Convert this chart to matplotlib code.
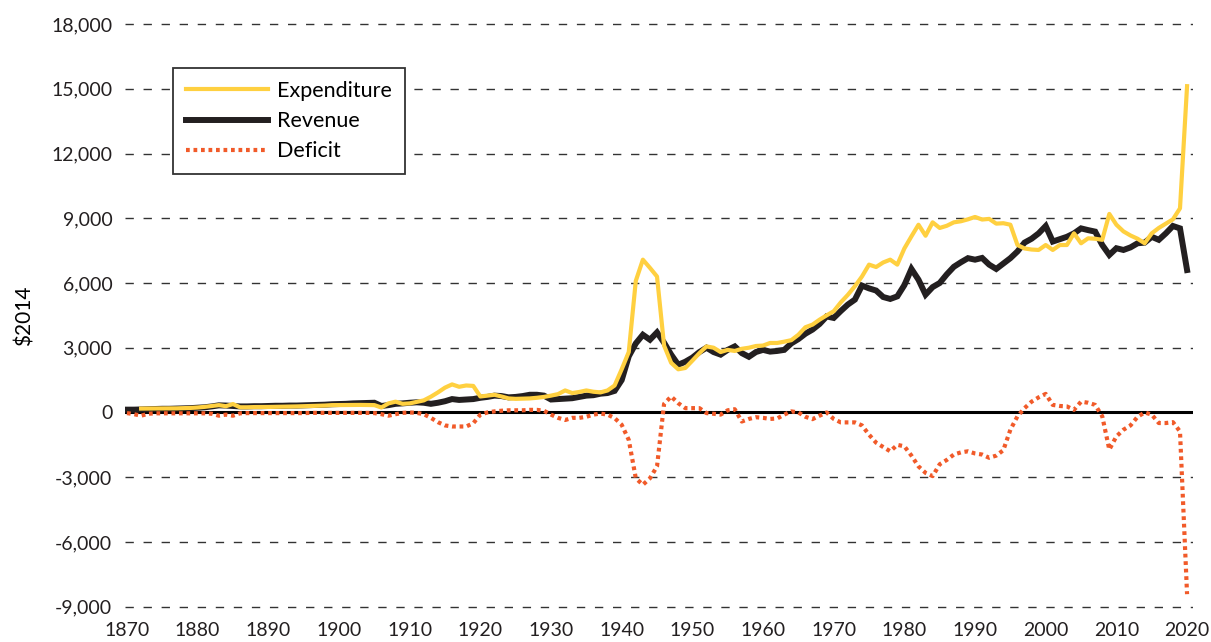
import numpy as np
import matplotlib
matplotlib.use("Agg")
import matplotlib.pyplot as plt

plt.rcParams['font.family'] = ['Lato', 'DejaVu Sans']
plt.rcParams.update({'font.size': 13})

# values in $2014
years = list(range(1870, 2021))

exp_years = list(range(1872, 2021))
expenditure = [
    180, 185, 185, 185, 185, 190, 200, 210,                         # 1872-1879
    230, 260, 300, 340, 290, 390, 240, 240, 250, 250,               # 1880s
    255, 260, 260, 270, 280, 290, 300, 310, 320, 340,               # 1890s
    340, 345, 350, 350, 345, 340, 230, 420, 500, 400,               # 1900s
    420, 490, 560, 730, 930, 1150, 1300, 1190, 1250, 1230,          # 1910s
    740, 780, 820, 740, 650, 630, 640, 650, 680, 720,               # 1920s
    780, 850, 1020, 900, 950, 1020, 960, 930, 1020, 1250,           # 1930s
    2000, 2800, 6100, 7080, 6700, 6300, 3100, 2300, 2000, 2060,     # 1940s
    2400, 2750, 3060, 3000, 2800, 2900, 2850, 2950, 3000, 3080,     # 1950s
    3100, 3220, 3220, 3280, 3350, 3600, 3950, 4070, 4300, 4500,     # 1960s
    4690, 5100, 5450, 5850, 6300, 6850, 6740, 6950, 7080, 6850,     # 1970s
    7600, 8160, 8700, 8190, 8810, 8550, 8650, 8810, 8860, 8950,     # 1980s
    9060, 8940, 8970, 8750, 8770, 8700, 7760, 7600, 7550, 7530,     # 1990s
    7760, 7530, 7760, 7760, 8300, 7840, 8070, 8050, 8000, 9200,     # 2000s
    8700, 8390, 8200, 8050, 7840, 8300, 8550, 8750, 8950, 9460,     # 2010s
    15120,                                                          # 2020
]

revenue = [
    130, 130, 140, 150, 160, 170, 170, 180, 190, 200,               # 1870s
    220, 240, 280, 330, 320, 300, 280, 280, 290, 290,               # 1880s
    300, 310, 310, 320, 320, 330, 340, 350, 360, 380,               # 1890s
    390, 400, 420, 430, 440, 450, 300, 340, 400, 420,               # 1900s
    450, 470, 450, 400, 450, 520, 620, 580, 600, 620,               # 1910s
    680, 720, 780, 760, 700, 720, 760, 820, 820, 780,               # 1920s
    600, 620, 640, 660, 720, 780, 800, 870, 900, 1000,              # 1930s
    1500, 2600, 3200, 3600, 3370, 3710, 3230, 2680, 2210, 2350,     # 1940s
    2540, 2800, 3000, 2800, 2680, 2900, 3060, 2750, 2580, 2800,     # 1950s
    2900, 2820, 2850, 2900, 3200, 3400, 3650, 3840, 4100, 4450,     # 1960s
    4380, 4700, 5000, 5230, 5880, 5750, 5650, 5350, 5260, 5380,     # 1970s
    5900, 6650, 6150, 5460, 5810, 6000, 6400, 6750, 6960, 7150,     # 1980s
    7080, 7160, 6850, 6650, 6900, 7150, 7460, 7870, 8050, 8300,     # 1990s
    8640, 7920, 8030, 8140, 8300, 8530, 8450, 8380, 7760, 7300,     # 2000s
    7610, 7530, 7650, 7840, 7870, 8140, 8000, 8300, 8640, 8530,     # 2010s
    6600,                                                           # 2020
]

deficit = [
    -30, -80, -150, -60, -40, -40, -40, -40, -40, -40,              # 1870s
    -40, -40, -60, -150, -100, -150, -40, -30, -30, -30,            # 1880s
    -30, -30, -30, -30, -30, -30, -20, -20, -20, -20,               # 1890s
    -20, -20, -20, -20, -20, -30, -80, -150, -80, -20,              # 1900s
    0, -20, -80, -250, -450, -600, -650, -650, -650, -500,          # 1910s
    -100, 0, 50, 80, 100, 100, 100, 120, 120, 80,                   # 1920s
    -100, -250, -350, -250, -250, -200, -100, -50, -100, -260,      # 1930s
    -570, -1270, -3050, -3350, -3050, -2500, 400, 740, 430, 200,    # 1940s
    200, 200, -30, -60, -100, 100, 150, -420, -300, -220,           # 1950s
    -250, -300, -280, -100, 50, 0, -200, -310, -150, 0,             # 1960s
    -300, -460, -460, -460, -600, -1030, -1400, -1600, -1800, -1500,  # 1970s
    -1570, -2000, -2500, -2800, -2950, -2400, -2200, -1950, -1850, -1800,  # 1980s
    -1900, -1950, -2100, -2000, -1750, -800, -180, 200, 500, 700,   # 1990s
    860, 350, 300, 280, 120, 500, 450, 350, -180, -1720,            # 2000s
    -1110, -800, -600, -200, 0, -100, -490, -490, -450, -880,       # 2010s
    -8420,                                                          # 2020
]

yticks = list(range(-9000, 18001, 3000))
xticks = list(range(1870, 2021, 10))

fig = plt.figure(figsize=(12.11, 6.42), dpi=100)
ax = fig.add_axes([0.1031, 0.0483, 0.8818, 0.921])

for v in yticks:
    if v == 0:
        continue
    ax.axhline(v, color='#333333', lw=1.0, linestyle=(0, (6, 7)), zorder=1)
ax.axhline(0, color='black', lw=2.2, zorder=2)

ax.plot(years, revenue, color='#231f20', lw=4.3, solid_joinstyle='miter', zorder=3, label='Revenue')
ax.plot(exp_years, expenditure, color='#ffd040', lw=3.0, zorder=4, label='Expenditure')
ax.plot(years, deficit, color='#f15a29', lw=3.0, linestyle=(0, (0.9, 0.9)), zorder=5, label='Deficit')

ax.set_xlim(1869.7, 2020.8)
ax.set_ylim(-9200, 18200)
ax.set_xticks(xticks)
ax.set_yticks(yticks)
ax.set_yticklabels(['{:,}'.format(v) for v in yticks])
ax.tick_params(length=0, labelsize=14, colors='#231f20')
ax.tick_params(axis='y', pad=9)
ax.tick_params(axis='x', pad=8)
for s in ax.spines.values():
    s.set_visible(False)
ax.set_ylabel('$2014', fontsize=15, labelpad=12)

h, l = ax.get_legend_handles_labels()
order = [1, 0, 2]
leg = fig.legend([h[i] for i in order], [l[i] for i in order], loc='upper left',
                 bbox_to_anchor=(0.1429, 0.894), borderaxespad=0, fontsize=15.5,
                 handlelength=3.8, handletextpad=0.45, labelspacing=0.47,
                 borderpad=0.6, fancybox=False, framealpha=1, edgecolor='#333333')
leg.get_frame().set_linewidth(1.3)

fig.savefig('out.png', dpi=100)
